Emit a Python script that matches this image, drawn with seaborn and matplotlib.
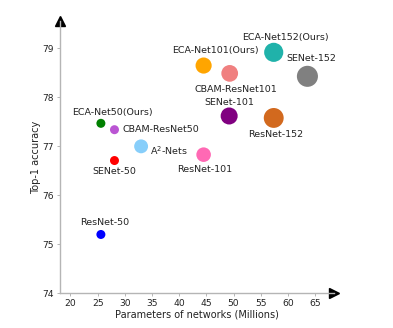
import matplotlib
matplotlib.use("Agg")
import matplotlib.pyplot as plt
import seaborn as sns
import pandas as pd

models = ["ResNet-50", "SENet-50", "ECA-Net50(Ours)", "CBAM-ResNet50", "A$^2$-Nets",
          "ResNet-101", "ECA-Net101(Ours)", "CBAM-ResNet101", "SENet-101",
          "ECA-Net152(Ours)", "ResNet-152", "SENet-152"]
params = [25.6, 28.1, 25.6, 28.1, 33.0, 44.5, 44.5, 49.3, 49.2, 57.4, 57.4, 63.6]
top1 = [75.20, 76.71, 77.47, 77.34, 77.00, 76.83, 78.65, 78.49, 77.62, 78.92, 77.58, 78.43]
colors = ["blue", "red", "green", "mediumorchid", "lightskyblue", "hotpink",
          "orange", "lightcoral", "purple", "lightseagreen", "chocolate", "gray"]
marker_area = [42, 42, 42, 42, 100, 110, 135, 145, 150, 190, 205, 230]
# label offsets (pixels) and horizontal alignment
label_dx = [4, 0, 12, 8, 9, 1, 12, 6, 0, 12, 2, 4]
label_dy = [12, -11, 11, 0, -4, -15, 15, -16, 13, 15, -17, 18]
label_ha = ["center", "center", "center", "left", "left", "center",
            "center", "center", "center", "center", "center", "center"]

df = pd.DataFrame({"model": models, "params": params, "top1": top1})

sns.set_style("white")
plt.rcParams["font.family"] = ["DejaVu Sans"]

fig = plt.figure(figsize=(3.93, 3.28), dpi=100)
ax = fig.add_axes([0.153, 0.106, 0.697, 0.830])

sns.scatterplot(data=df, x="params", y="top1", hue="model", palette=colors,
                size="model", sizes=dict(zip(models, marker_area)),
                edgecolor="none", legend=False, ax=ax, zorder=3)

for m, x, y, dx, dy, ha in zip(models, params, top1, label_dx, label_dy, label_ha):
    ax.annotate(m, (x, y), xytext=(dx, dy), textcoords="offset pixels",
                ha=ha, va="center", fontsize=6.8, color="#222222")

ax.set_xlim(18.1, 68.5)
ax.set_ylim(74, 79.56)
ax.set_xticks(range(20, 66, 5))
ax.set_yticks(range(74, 80))
ax.tick_params(axis="both", labelsize=6.6, length=2.5, width=0.6,
               color="#aaaaaa", labelcolor="#222222", pad=2,
               bottom=True, left=True)
ax.set_xlabel("Parameters of networks (Millions)", fontsize=7, color="#222222", labelpad=1)
ax.set_ylabel("Top-1 accuracy", fontsize=7, color="#222222", labelpad=1)

for side in ("top", "right"):
    ax.spines[side].set_visible(False)
for side in ("left", "bottom"):
    ax.spines[side].set_color("#b5b5b5")
    ax.spines[side].set_linewidth(1.0)

# arrow heads at the end of each axis
ax.plot(1, 0, ">k", transform=ax.transAxes, clip_on=False, markersize=6.5)
ax.plot(0, 1, "^k", transform=ax.transAxes, clip_on=False, markersize=6.5)

fig.savefig("out.png", dpi=100)
